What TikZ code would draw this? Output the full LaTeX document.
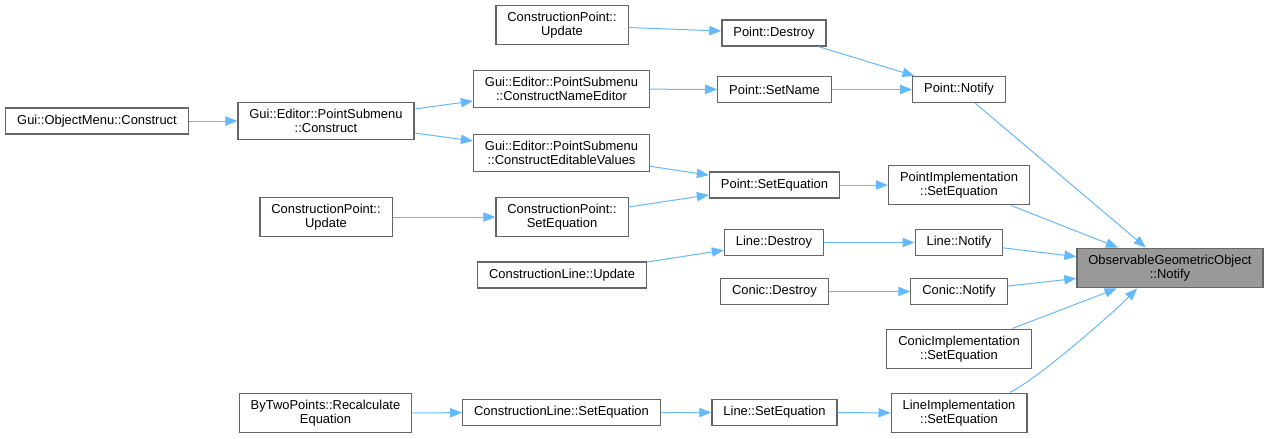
\documentclass[tikz,border=0pt]{standalone}
\usepackage{fontspec}
\setmainfont{Liberation Sans}
\usepackage{xcolor}
\usetikzlibrary{arrows.meta}

\definecolor{edgeblue}{HTML}{63B8FF}
\definecolor{boxgray}{HTML}{666666}
\definecolor{rootgray}{HTML}{999999}

\begin{document}
\begin{tikzpicture}[x=0.75pt,y=-0.75pt,
  fn/.style={draw=boxgray,fill=white,line width=0.9pt,align=center,inner xsep=8.6pt,inner ysep=5pt,
    minimum height=19.5pt,font=\fontsize{9.7}{10.8}\selectfont},
  root/.style={fn,fill=rootgray},
  call/.style={draw=edgeblue,line width=0.75pt,-{Triangle[length=9pt,width=7pt]}}]

\useasboundingbox (0,0) rectangle (1268,439);

\node[root] (ogo) at (1170,268) {ObservableGeometricObject\\::Notify};

\node[fn] (pnotify) at (959,89.5) {Point::Notify};
\node[fn] (pimpl) at (959,185) {PointImplementation\\::SetEquation};
\node[fn] (lnotify) at (959,242.5) {Line::Notify};
\node[fn] (cnotify) at (959,291.5) {Conic::Notify};
\node[fn] (cimpl) at (959,349) {ConicImplementation\\::SetEquation};
\node[fn] (limpl) at (959,413) {LineImplementation\\::SetEquation};

\node[fn] (pdestroy) at (774,33) {Point::Destroy};
\node[fn] (psetname) at (774.5,89.5) {Point::SetName};
\node[fn] (psetequ) at (774.5,185) {Point::SetEquation};
\node[fn] (ldestroy) at (774,242.5) {Line::Destroy};
\node[fn] (cdestroy) at (774.5,291.5) {Conic::Destroy};
\node[fn] (lsetequ) at (774.5,412.5) {Line::SetEquation};

\node[fn] (cpupdatea) at (562,25) {ConstructionPoint::\\Update};
\node[fn] (nameedit) at (561.5,89) {Gui::Editor::PointSubmenu\\::ConstructNameEditor};
\node[fn] (editvals) at (561.5,153) {Gui::Editor::PointSubmenu\\::ConstructEditableValues};
\node[fn] (cpsetequ) at (562,217) {ConstructionPoint::\\SetEquation};
\node[fn] (clupdate) at (562,275) {ConstructionLine::Update};
\node[fn] (clsetequ) at (561.5,412.5) {ConstructionLine::SetEquation};

\node[fn] (pscons) at (326,121) {Gui::Editor::PointSubmenu\\::Construct};
\node[fn] (cpupdateb) at (326,217) {ConstructionPoint::\\Update};
\node[fn] (bytwo) at (325.5,413) {ByTwoPoints::Recalculate\\Equation};

\node[fn] (omcons) at (97,121) {Gui::ObjectMenu::Construct};

\draw[call] (pnotify) -- (ogo);
\draw[call] (pimpl) -- (ogo);
\draw[call] (lnotify) -- (ogo);
\draw[call] (cnotify) -- (ogo);
\draw[call] (cimpl) -- (ogo);
\draw[call] (limpl.22) .. controls +(30,-15) and +(-25,25) .. (ogo.-148);

\draw[call] (pdestroy) -- (pnotify);
\draw[call] (psetname) -- (pnotify);
\draw[call] (psetequ) -- (pimpl);
\draw[call] (ldestroy) -- (lnotify);
\draw[call] (cdestroy) -- (cnotify);
\draw[call] (lsetequ) -- (limpl);

\draw[call] (cpupdatea) -- (pdestroy);
\draw[call] (nameedit) -- (psetname);
\draw[call] (editvals) -- (psetequ);
\draw[call] (cpsetequ) -- (psetequ);
\draw[call] (clupdate) -- (ldestroy);
\draw[call] (clsetequ) -- (lsetequ);

\draw[call] (pscons) -- (nameedit);
\draw[call] (pscons) -- (editvals);
\draw[call] (cpupdateb) -- (cpsetequ);
\draw[call] (bytwo) -- (clsetequ);
\draw[call] (omcons) -- (pscons);
\end{tikzpicture}
\end{document}
